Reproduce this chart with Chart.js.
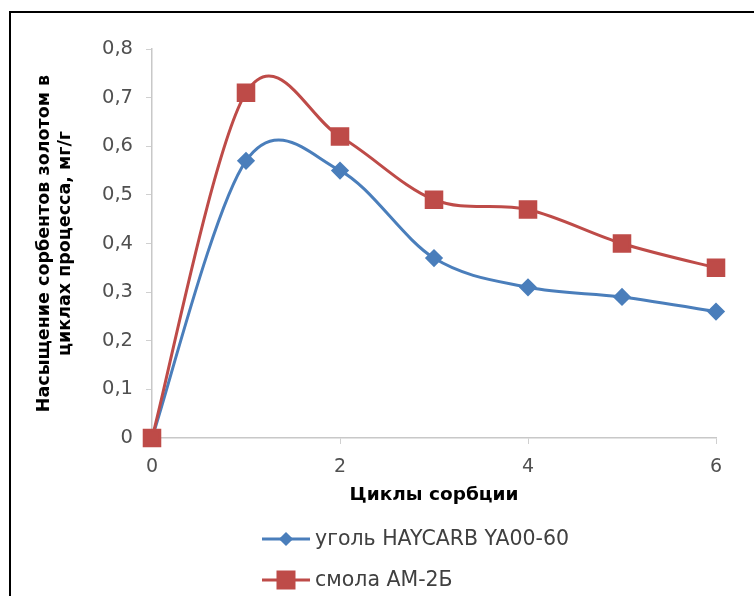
<!DOCTYPE html>
<html>
<head>
<meta charset="utf-8">
<script src="https://cdn.jsdelivr.net/npm/chart.js@4"></script>
<style>
  html, body { margin: 0; padding: 0; background: #fff; overflow: hidden; }
  #frame { position: absolute; left: 9px; top: 11px; width: 800px; height: 700px; border: 2px solid #000; }
  #wrap { position: absolute; left: 0; top: 0; width: 754px; height: 596px; }
</style>
</head>
<body>
<div id="frame"></div>
<div id="wrap"><canvas id="myChart" width="754" height="596"></canvas></div>
<script>
const cycles = [0, 1, 2, 3, 4, 5, 6];
const coal = [0, 0.57, 0.55, 0.37, 0.31, 0.29, 0.26];
const resin = [0, 0.71, 0.62, 0.49, 0.47, 0.40, 0.35];
const seriesNames = ['уголь HAYCARB YA00-60', 'смола АМ-2Б'];

const fontFam = '"DejaVu Sans", "Noto Sans", sans-serif';

function toPoints(vals) {
  return cycles.map((c, i) => ({ x: c, y: vals[i] }));
}

// excel style smoothing: control points at (next - prev) / 6
const excelSmooth = {
  id: 'excelSmooth',
  beforeDatasetDraw(chart, args) {
    const line = args.meta.dataset;
    const pts = args.meta.data;
    line.updateControlPoints(chart.chartArea);
    for (let i = 0; i < pts.length; i++) {
      const prev = pts[i - 1] || pts[i];
      const next = pts[i + 1] || pts[i];
      const dx = (next.x - prev.x) / 6;
      const dy = (next.y - prev.y) / 6;
      pts[i].cp1x = pts[i].x - dx;
      pts[i].cp1y = pts[i].y - dy;
      pts[i].cp2x = pts[i].x + dx;
      pts[i].cp2y = pts[i].y + dy;
    }
  }
};

// excel-like legend, stacked under the axis title
const excelLegend = {
  id: 'excelLegend',
  afterDraw(chart) {
    const ctx = chart.ctx;
    const x0 = 262, x1 = 310;
    const rows = [chart.chartArea.bottom + 101, chart.chartArea.bottom + 142];
    const sizes = [5, 8];
    chart.data.datasets.forEach((ds, i) => {
      const y = rows[i];
      ctx.save();
      ctx.strokeStyle = ds.borderColor;
      ctx.lineWidth = ds.borderWidth;
      ctx.beginPath();
      ctx.moveTo(x0, y);
      ctx.lineTo(x1, y);
      ctx.stroke();
      Chart.helpers.drawPoint(ctx, {
        pointStyle: ds.pointStyle,
        radius: sizes[i] * (ds.pointStyle === 'rect' ? 1.414 : 1),
        borderWidth: 1
      }, (x0 + x1) / 2, y);
      ctx.fillStyle = ds.pointBackgroundColor;
      ctx.fill();
      ctx.fillStyle = '#404040';
      ctx.font = '20.5px ' + fontFam;
      ctx.textBaseline = 'middle';
      ctx.fillText(ds.label, x1 + 5, y + 1);
      ctx.restore();
    });
  }
};

const ctx = document.getElementById('myChart');

new Chart(ctx, {
  type: 'line',
  data: {
    datasets: [{
      label: seriesNames[0],
      data: toPoints(coal),
      borderColor: '#4a7ebb',
      backgroundColor: '#4a7ebb',
      pointBackgroundColor: '#4a7ebb',
      pointBorderColor: '#4a7ebb',
      pointStyle: 'rectRot',
      pointRadius: 7,
      borderWidth: 3,
      tension: 0.4,
      clip: false,
      order: 1
    }, {
      label: seriesNames[1],
      data: toPoints(resin),
      borderColor: '#be4b48',
      backgroundColor: '#be4b48',
      pointBackgroundColor: '#be4b48',
      pointBorderColor: '#be4b48',
      pointStyle: 'rect',
      pointRadius: 11,
      borderWidth: 3,
      tension: 0.4,
      clip: false,
      order: 0
    }]
  },
  plugins: [excelSmooth, excelLegend],
  options: {
    responsive: false,
    animation: false,
    elements: { line: { capBezierPoints: false } },
    layout: { padding: { top: 49, right: 38, bottom: 86, left: 34 } },
    plugins: {
      legend: { display: false },
      tooltip: { enabled: false }
    },
    scales: {
      x: {
        type: 'linear',
        min: 0,
        max: 6,
        ticks: {
          stepSize: 2,
          color: '#505050',
          font: { family: fontFam, size: 19 },
          padding: 12
        },
        grid: { drawOnChartArea: false, drawTicks: true, tickLength: 6, color: '#d0d0d0' },
        border: { color: '#c8c8c8', width: 1.5 },
        title: {
          display: true,
          text: 'Циклы сорбции',
          color: '#000',
          font: { family: fontFam, size: 18.5, weight: 'bold' },
          padding: { top: 2, bottom: 4 }
        },
        afterFit(scale) { scale.height = 72; }
      },
      y: {
        min: 0,
        max: 0.8,
        ticks: {
          stepSize: 0.1,
          color: '#505050',
          font: { family: fontFam, size: 19.5 },
          padding: 13,
          callback: v => v === 0 ? '0' : v.toFixed(1).replace('.', ',')
        },
        grid: { drawOnChartArea: false, drawTicks: true, tickLength: 6, color: '#d0d0d0' },
        border: { color: '#c8c8c8', width: 1.5 },
        title: {
          display: true,
          text: ['Насыщение сорбентов золотом в', 'циклах процесса, мг/г'],
          color: '#000',
          font: { family: fontFam, size: 17.5, weight: 'bold', lineHeight: 1.2 },
          padding: { top: 0, bottom: 6 }
        },
        afterFit(scale) { scale.width = 118; }
      }
    }
  }
});
</script>
</body>
</html>
